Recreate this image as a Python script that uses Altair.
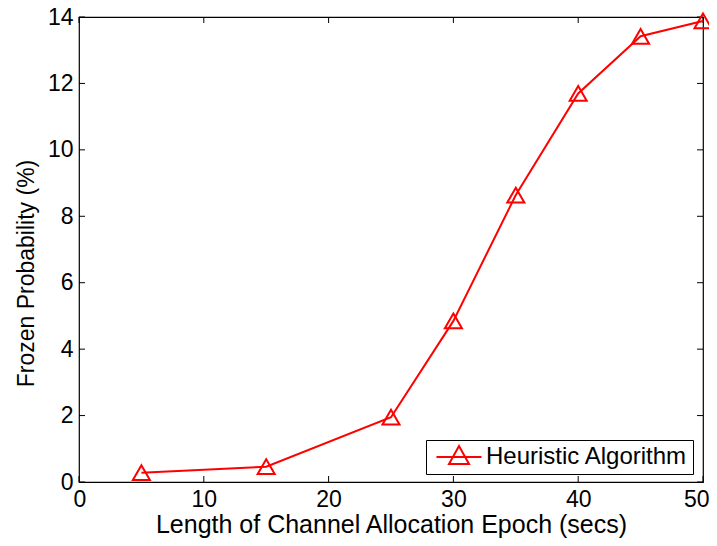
import altair as alt
import pandas as pd

# ---- data ----
epoch = [5, 15, 25, 30, 35, 40, 45, 50]
frozen = [0.28, 0.46, 1.95, 4.85, 8.64, 11.7, 13.42, 13.88]
series_name = "Heuristic Algorithm"
x_ticks = [0, 10, 20, 30, 40, 50]
y_ticks = [0, 2, 4, 6, 8, 10, 12, 14]

FONT = "Liberation Sans"
TOP = 9
W, H = 624, 465
TICK = 6

df = pd.DataFrame({"epoch": epoch, "frozen": frozen, "series": [series_name] * len(epoch)})
xt = pd.DataFrame({"t": x_ticks})
yt = pd.DataFrame({"t": y_ticks})

xscale = alt.Scale(domain=[0, 50], nice=False, zero=False)
yscale = alt.Scale(domain=[0, 14], nice=False, zero=False)

x_axis = alt.Axis(values=x_ticks, format="d", ticks=False, domain=False, grid=False,
                  labelFont=FONT, labelFontSize=23, labelColor="black",
                  labelFlush=True, labelFlushOffset=6,
                  labelBaseline="alphabetic", labelPadding=24,
                  titleFont=FONT, titleFontSize=25, titleFontWeight="normal", titleColor="black",
                  titleBaseline="alphabetic", titleY=50)
y_axis = alt.Axis(values=y_ticks, format="d", ticks=False, domain=False, grid=False,
                  labelFont=FONT, labelFontSize=23, labelColor="black", labelPadding=6,
                  labelFlush=False,
                  titleFont=FONT, titleFontSize=23, titleFontWeight="normal", titleColor="black",
                  titleBaseline="alphabetic", titleX=-46, titleY=256)

# legend glyph: a red line with an open triangle (units of symbol radius 10px)
legend_symbol = "M-2.25,0L2.25,0M0,-1.1L1,0.7L-1,0.7Z"

line = alt.Chart(df).mark_line(strokeWidth=2).encode(
    x=alt.X("epoch:Q", scale=xscale, axis=x_axis, title="Length of Channel Allocation Epoch (secs)"),
    y=alt.Y("frozen:Q", scale=yscale, axis=y_axis, title="Frozen Probability (%)"),
    color=alt.Color("series:N",
                    scale=alt.Scale(domain=[series_name], range=["#ff0000"]),
                    legend=alt.Legend(title=None, orient="none", legendX=347, legendY=440 - 8 - TOP,
                                      symbolType=legend_symbol, symbolSize=400,
                                      symbolStrokeWidth=2, symbolStrokeColor="#ff0000",
                                      symbolFillColor="transparent", symbolOffset=16,
                                      labelFont=FONT, labelFontSize=24, labelColor="black",
                                      labelOffset=15, labelLimit=400, padding=5,
                                      strokeColor="black", fillColor="white", cornerRadius=0)),
)

points = alt.Chart(df).mark_point(shape="triangle-up", filled=False, size=290,
                                  strokeWidth=2, color="#ff0000", opacity=1).encode(
    x=alt.X("epoch:Q", scale=xscale),
    y=alt.Y("frozen:Q", scale=yscale),
)

xt_bottom = alt.Chart(xt).mark_rule(color="black", strokeWidth=1).encode(
    x=alt.X("t:Q", scale=xscale), y=alt.value(H), y2=alt.value(H - TICK))
xt_top = alt.Chart(xt).mark_rule(color="black", strokeWidth=1).encode(
    x=alt.X("t:Q", scale=xscale), y=alt.value(0), y2=alt.value(TICK))
yt_left = alt.Chart(yt).mark_rule(color="black", strokeWidth=1).encode(
    y=alt.Y("t:Q", scale=yscale), x=alt.value(0), x2=alt.value(TICK))
yt_right = alt.Chart(yt).mark_rule(color="black", strokeWidth=1).encode(
    y=alt.Y("t:Q", scale=yscale), x=alt.value(W), x2=alt.value(W - TICK))

chart = alt.layer(xt_bottom, xt_top, yt_left, yt_right, line, points).properties(
    width=W, height=H,
    autosize=alt.AutoSizeParams(type="none"),
    padding={"left": 71, "top": TOP, "right": 6, "bottom": 56},
    background="white",
).configure_view(stroke="black", strokeWidth=1.2)

chart.save("out.html", embed_options={"renderer": "svg", "actions": False})
